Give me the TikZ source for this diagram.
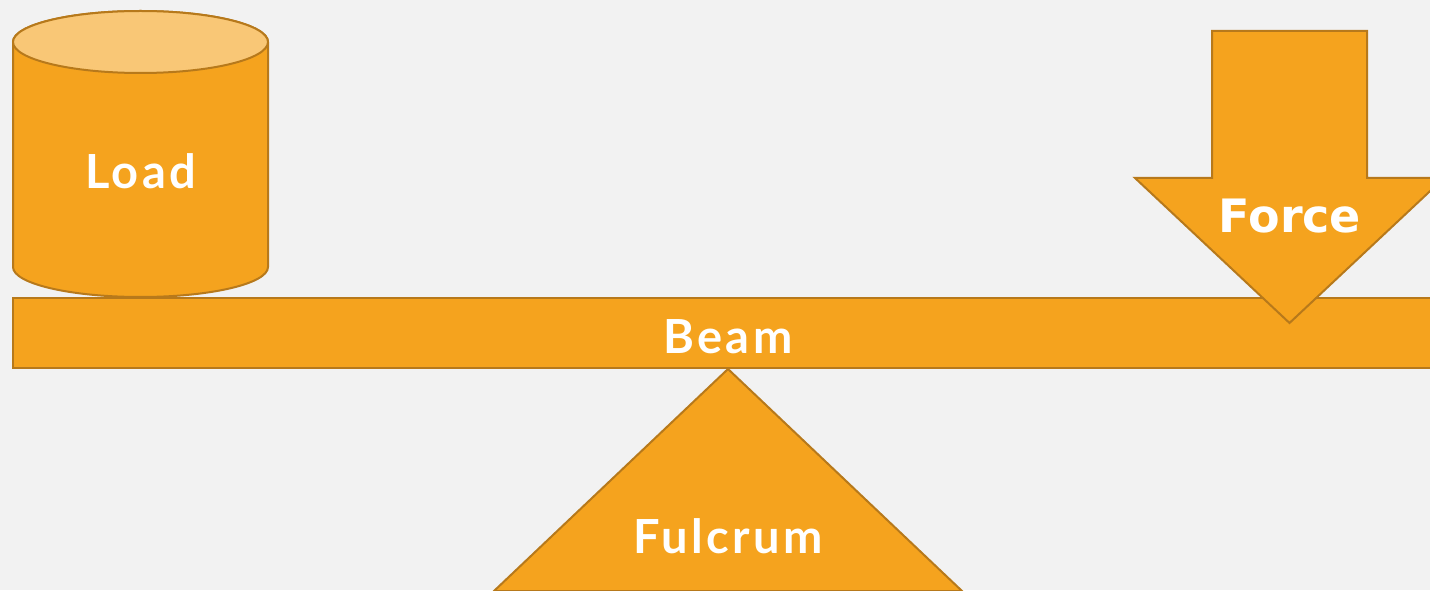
\documentclass[tikz,border=0pt]{standalone}
\usepackage{fontspec}
\newfontfamily\lato[LetterSpace=7]{Lato}
\newfontfamily\dejavu{DejaVu Sans}
\definecolor{bg}{HTML}{F2F2F2}
\definecolor{orfill}{HTML}{F5A31E}
\definecolor{orline}{HTML}{B7791B}
\definecolor{ortop}{HTML}{F9C776}
\begin{document}
\begin{tikzpicture}[x=1pt,y=1pt,
  shapestyle/.style={fill=orfill,draw=orline,line width=2pt,line join=miter},
  lbl/.style={text=white,anchor=base,inner sep=0pt,font=\lato\bfseries\fontsize{47}{56}\selectfont}]
\fill[bg] (0,0) rectangle (1430,590);
\useasboundingbox (0,0) rectangle (1430,590);
\clip (0,0) rectangle (1430,590);
% cylinder (Load)
\draw[shapestyle] (13,548) -- (13,323) arc[start angle=180,end angle=360,x radius=127.5pt,y radius=30pt] -- (268,548) arc[start angle=0,end angle=180,x radius=127.5pt,y radius=31pt] -- cycle;
\draw[shapestyle,fill=ortop] (140.5,548) ellipse[x radius=127.5pt,y radius=31pt];
\node[lbl] (load) at (140.5,401) {Load};
% beam
\draw[shapestyle] (13,222) rectangle (1445,292);
\node[lbl] (beam) at (728,237) {Beam};
% fulcrum
\draw[shapestyle] (728,221) -- (962,-1) -- (494,-1) -- cycle;
\node[lbl] (fulcrum) at (728,37) {Fulcrum};
% force arrow
\draw[shapestyle] (1212,559) -- (1367,559) -- (1367,412) -- (1444,412) -- (1289.5,267) -- (1135,412) -- (1212,412) -- cycle;
\node[lbl,font=\dejavu\bfseries\fontsize{46}{54}\selectfont] (force) at (1290,357) {Force};
\end{tikzpicture}
\end{document}
